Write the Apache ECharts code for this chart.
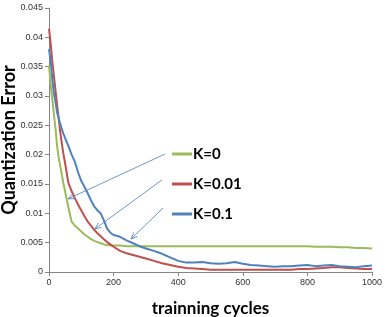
<!DOCTYPE html>
<html>
<head>
<meta charset="utf-8">
<script src="https://cdn.jsdelivr.net/npm/echarts@6/dist/echarts.min.js"></script>
<style>
html,body{margin:0;padding:0;background:#fff;}
#c{width:388px;height:317px;}
</style>
</head>
<body>
<div id="c"></div>
<script>
var cycles = [0,5,10,15,20,25,30,35,40,45,50,60,70,80,90,100,110,120,130,140,150,160,170,180,190,200,220,240,260,280,300,325,350,375,400,425,450,475,500,525,550,575,600,625,650,675,700,725,750,775,800,825,850,875,900,925,950,975,1000];
var k0 = [0.0352,0.032,0.0295,0.027,0.0245,0.0215,0.0195,0.018,0.0165,0.015,0.0137,0.011,0.0086,0.0079,0.0074,0.0069,0.0064,0.0060,0.0056,0.0053,0.0051,0.0049,0.0047,0.0046,0.0045,0.0045,0.0045,0.0044,0.0044,0.0044,0.0044,0.0044,0.0044,0.0044,0.0044,0.0044,0.0044,0.0044,0.0044,0.0044,0.0044,0.0044,0.0044,0.0044,0.0044,0.0044,0.0044,0.0044,0.0044,0.0044,0.0044,0.0043,0.0043,0.0043,0.0042,0.0042,0.0041,0.0041,0.0040];
var k001 = [0.0415,0.039,0.036,0.0335,0.031,0.0285,0.0262,0.0238,0.0218,0.020,0.0185,0.0152,0.0138,0.0126,0.0115,0.0105,0.0095,0.0086,0.0079,0.0072,0.0066,0.0061,0.0056,0.0051,0.0047,0.0043,0.0036,0.0032,0.0029,0.0026,0.0023,0.0019,0.0015,0.0012,0.0009,0.0007,0.0006,0.0005,0.0004,0.0004,0.0004,0.0004,0.0004,0.0004,0.0004,0.0004,0.0004,0.0004,0.0004,0.0005,0.0005,0.0006,0.0007,0.0008,0.0008,0.0007,0.0006,0.0005,0.0005];
var k01 = [0.038,0.036,0.033,0.0305,0.029,0.0272,0.0262,0.0252,0.0243,0.0235,0.0228,0.0215,0.0200,0.0188,0.0170,0.0155,0.0145,0.0134,0.0122,0.0112,0.0105,0.0100,0.0088,0.0074,0.0067,0.0063,0.0060,0.0054,0.0049,0.0044,0.0040,0.0036,0.0031,0.0025,0.0019,0.0016,0.0016,0.0017,0.0015,0.0014,0.0015,0.0017,0.0014,0.0012,0.0011,0.0010,0.0009,0.0010,0.0010,0.0011,0.0012,0.0010,0.0011,0.0012,0.0010,0.0009,0.0008,0.0010,0.0011];
var seriesNames = ['K=0','K=0.01','K=0.1'];
var colors = ['#9bbb59','#c0504d','#4f81bd'];
// arrow annotations: [startCycle, startValue, tipCycle, tipValue]
var arrows = [[359,0.0201,59,0.01246],[350,0.0157,142,0.00734],[353,0.0109,254,0.00563]];

function pairs(v){ return cycles.map(function(c,i){ return [c, v[i]]; }); }
var chart = echarts.init(document.getElementById('c'));
var font = '"Liberation Sans", Arial, sans-serif';
var boldFont = 'Lato, "Liberation Sans", sans-serif';
chart.setOption({
  animation:false,
  backgroundColor:'#fff',
  grid:{left:49,right:16,top:8,bottom:45,containLabel:false,outerBoundsMode:'none'},
  legend:{
    orient:'vertical', left:167, top:140, itemGap:12,
    icon:'rect', itemWidth:20, itemHeight:3,
    textStyle:{fontFamily:boldFont, fontWeight:'bold', fontSize:15, color:'#000', lineHeight:18, padding:[0,0,0,-4]},
    data:seriesNames
  },
  xAxis:{
    type:'value', min:0, max:1000, interval:200,
    name:'trainning cycles', nameLocation:'middle', nameGap:28, nameMoveOverlap:false,
    nameTextStyle:{fontFamily:boldFont, fontWeight:'bold', fontSize:17, color:'#000'},
    axisLine:{show:true, lineStyle:{color:'#868686', width:1}},
    axisTick:{show:true, length:4, lineStyle:{color:'#868686'}},
    axisLabel:{fontFamily:font, fontSize:9, color:'#333', margin:6, formatter:function(v){return String(v);}},
    splitLine:{show:false}
  },
  yAxis:{
    type:'value', min:0, max:0.045, interval:0.005,
    name:'Quantization Error', nameLocation:'middle', nameGap:31, nameRotate:90, nameMoveOverlap:false,
    nameTextStyle:{fontFamily:boldFont, fontWeight:'bold', fontSize:18, color:'#000'},
    axisLine:{show:true, lineStyle:{color:'#868686', width:1}},
    axisTick:{show:true, length:4, lineStyle:{color:'#868686'}},
    axisLabel:{fontFamily:font, fontSize:9, color:'#333', margin:6},
    splitLine:{show:false}
  },
  series:[k0,k001,k01].map(function(v,i){
    return {name:seriesNames[i], type:'line', data:pairs(v), showSymbol:false, symbol:'none',
      lineStyle:{width:2, color:colors[i]}, itemStyle:{color:colors[i]}};
  })
});
var g = [];
arrows.forEach(function(a){
  var s = chart.convertToPixel({gridIndex:0},[a[0],a[1]]);
  var t = chart.convertToPixel({gridIndex:0},[a[2],a[3]]);
  var ang = Math.atan2(s[1]-t[1], s[0]-t[0]);
  var L = 7, w = 0.4;
  var p1 = [t[0]+L*Math.cos(ang+w), t[1]+L*Math.sin(ang+w)];
  var p2 = [t[0]+L*Math.cos(ang-w), t[1]+L*Math.sin(ang-w)];
  g.push({type:'line', shape:{x1:s[0],y1:s[1],x2:t[0],y2:t[1]}, style:{stroke:'#4a7ebb', lineWidth:0.8}, z:100});
  g.push({type:'polyline', shape:{points:[p1,t,p2]}, style:{stroke:'#4a7ebb', lineWidth:0.8, fill:null}, z:100});
});
chart.setOption({graphic:g});
</script>
</body>
</html>
